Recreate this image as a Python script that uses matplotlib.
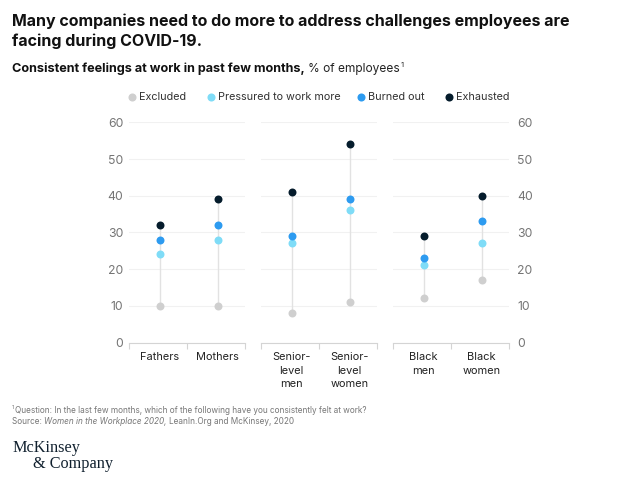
import matplotlib
matplotlib.use("Agg")
import matplotlib.pyplot as plt
from matplotlib.lines import Line2D

plt.rcParams['font.family'] = ['Inter', 'DejaVu Sans']

# values, one list per panel
panel_labels = [["Fathers", "Mothers"],
                ["Senior-\nlevel\nmen", "Senior-\nlevel\nwomen"],
                ["Black\nmen", "Black\nwomen"]]
excluded = [[10, 10], [8, 11], [12, 17]]
pressured = [[24, 28], [27, 36], [21, 27]]
burned_out = [[28, 32], [29, 39], [23, 33]]
exhausted = [[32, 39], [41, 54], [29, 40]]

series_names = ["Excluded", "Pressured to work more", "Burned out", "Exhausted"]
series_values = [excluded, pressured, burned_out, exhausted]
series_colors = ["#cfcfcf", "#7fdcf7", "#2d9bf0", "#051c2c"]
y_ticks = [0, 10, 20, 30, 40, 50, 60]

W, H = 623, 499
fig = plt.figure(figsize=(W / 100, H / 100), dpi=100, facecolor="white")

# -----------------------------
# Panels
# -----------------------------
panel_left = [129, 261, 393]
panel_width = 116
top, bottom = 122.3, 342.5
xmin, xmax = -0.53, 1.47

for p, left in enumerate(panel_left):
    ax = fig.add_axes([left / W, 1 - bottom / H, panel_width / W, (bottom - top) / H])
    ax.set_xlim(xmin, xmax)
    ax.set_ylim(0, 60)
    ax.patch.set_alpha(0)
    for side in ["top", "left", "right"]:
        ax.spines[side].set_visible(False)
    ax.spines["bottom"].set_color("#d4d4d4")
    ax.spines["bottom"].set_linewidth(0.8)

    ax.set_yticks(y_ticks)
    ax.grid(axis="y", color="#f1f1f1", linewidth=0.8, zorder=0)
    ax.set_axisbelow(True)
    ax.tick_params(axis="y", length=0, labelsize=8.8, labelcolor="#757575", pad=4)
    if p == 0:
        ax.tick_params(axis="y", labelleft=True, labelright=False)
    elif p == 2:
        ax.tick_params(axis="y", labelleft=False, labelright=True, pad=6)
    else:
        ax.tick_params(axis="y", labelleft=False)

    ax.set_xticks([0, 1])
    ax.set_xticklabels(panel_labels[p], fontsize=7.9, color="#222222", linespacing=1.45, va="top")
    ax.tick_params(axis="x", which="major", length=0, pad=7)
    ax.set_xticks([xmin, (xmin + xmax) / 2, xmax], minor=True)
    ax.tick_params(axis="x", which="minor", length=4, width=0.8, color="#d4d4d4")

    # stems from lowest to highest value
    for i in range(2):
        ax.plot([i, i], [excluded[p][i], exhausted[p][i]], color="#e2e2e2", linewidth=1.0, zorder=2)
    for values, color in zip(series_values, series_colors):
        ax.scatter([0, 1], values[p], s=33, color=color, linewidths=0, zorder=3, clip_on=False)

# -----------------------------
# Legend
# -----------------------------
legend_x = [132, 211, 361, 449]
for name, color, x in zip(series_names, series_colors, legend_x):
    fig.add_artist(Line2D([x / W], [1 - 96.5 / H], marker="o", markersize=5.8, color=color,
                          markeredgewidth=0, linestyle="none"))
    fig.text((x + 7) / W, 1 - 96.5 / H, name, fontsize=7.8, color="#333333", va="center")


def run(x, y, parts, **kw):
    # write text pieces one after another on the same line
    renderer = fig.canvas.get_renderer()
    for s, extra in parts:
        t = fig.text(x / W, 1 - y / H, s, va="baseline", **kw, **extra)
        x = t.get_window_extent(renderer).x1


# -----------------------------
# Titles and notes
# -----------------------------
title_style = dict(fontsize=11.5, fontweight="bold", color="#111111")
fig.text(12 / W, 1 - 26 / H, "Many companies need to do more to address challenges employees are",
         va="baseline", **title_style)
fig.text(12 / W, 1 - 46 / H, "facing during COVID-19.", va="baseline", **title_style)

run(12, 72, [("Consistent feelings at work in past few months, ", dict(fontweight="bold", color="#111111", fontsize=9.1)),
             ("% of employees", dict(color="#222222", fontsize=8.6))])
fig.text(401 / W, 1 - 67 / H, "1", fontsize=5.5, color="#222222", va="baseline")

note_style = dict(fontsize=5.9, color="#777777")
fig.text(12 / W, 1 - 409 / H, "1", fontsize=4, color="#777777", va="baseline")
fig.text(15 / W, 1 - 413 / H,
         "Question: In the last few months, which of the following have you consistently felt at work?",
         va="baseline", **note_style)
run(12, 424, [("Source: ", {}), ("Women in the Workplace 2020, ", dict(style="italic")),
              ("LeanIn.Org and McKinsey, 2020", {})], **note_style)

fig.text(12 / W, 1 - 448 / H, "McKinsey", family="Liberation Serif", fontsize=11.7, color="#10202e", va="center")
fig.text(33 / W, 1 - 464 / H, "& Company", family="Liberation Serif", fontsize=11.7, color="#10202e", va="center")

fig.savefig("out.png", dpi=100)
